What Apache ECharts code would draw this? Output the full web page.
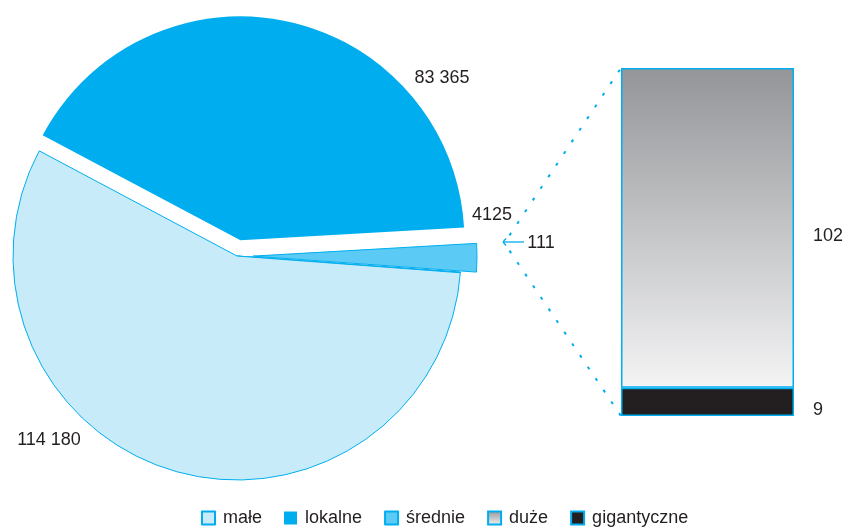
<!DOCTYPE html>
<html>
<head>
<meta charset="utf-8">
<script src="https://cdn.jsdelivr.net/npm/echarts@6/dist/echarts.min.js"></script>
<style>
html, body { margin: 0; padding: 0; background: #fff; }
#chart { width: 847px; height: 528px; }
</style>
</head>
<body>
<div id="chart"></div>
<script>
// dane
var pieNames = ['lokalne', 'średnie', 'duże i gigantyczne', 'małe'];
var pieValues = [83365, 4125, 111, 114180];
var pieLabels = ['83 365', '4125', '111', '114 180'];
var barCategories = ['duże i gigantyczne'];
var barNames = ['gigantyczne', 'duże'];
var barValues = [[9], [102]];
var legendNames = ['małe', 'lokalne', 'średnie', 'duże', 'gigantyczne'];

var blue = '#00aeef';
var ink = '#231f20';
var font = 'Liberation Sans';

// where the pie labels sit
var pieLabelPos = [[442, 78], [492, 215], [541, 243], [49, 440]];

var chart = echarts.init(document.getElementById('chart'));

var pieColors = {
  'lokalne': {color: blue, borderWidth: 0},
  'średnie': {color: '#5bcbf5', borderColor: blue, borderWidth: 1},
  'duże i gigantyczne': {color: '#a7a9ac', borderColor: blue, borderWidth: 1},
  'małe': {color: '#c8ebfa', borderColor: blue, borderWidth: 1}
};

var pieData = pieNames.map(function(n, i) {
  return {
    name: n,
    value: pieValues[i],
    selected: n === 'lokalne' || n === 'średnie',
    itemStyle: pieColors[n]
  };
});

var barGrad = new echarts.graphic.LinearGradient(0, 0, 0, 1, [
  {offset: 0, color: '#939598'},
  {offset: 1, color: '#f4f4f5'}
]);

var barSeries = barNames.map(function(n, i) {
  return {
    name: n,
    type: 'bar',
    stack: 'kol',
    xAxisIndex: 0,
    yAxisIndex: 0,
    barWidth: '100%',
    data: barValues[i],
    itemStyle: {
      color: n === 'duże' ? barGrad : ink,
      borderColor: blue,
      borderWidth: 1.5
    },
    label: {
      show: true,
      position: 'right',
      distance: 19,
      color: ink,
      fontFamily: font,
      fontSize: 18,
      offset: [0, 8]
    },
    emphasis: {disabled: true}
  };
});

option = {
  animation: false,
  textStyle: {fontFamily: font, color: ink},
  legend: {
    data: legendNames,
    left: 196,
    top: 504,
    icon: 'rect',
    itemWidth: 13,
    itemHeight: 13,
    itemGap: 22,
    selectedMode: false,
    textStyle: {fontFamily: font, fontSize: 18, color: ink, padding: [0, 0, 0, 3]}
  },
  grid: {left: 621, top: 68, width: 173, height: 348},
  xAxis: {type: 'category', data: barCategories, show: false},
  yAxis: {type: 'value', min: 0, max: 111, show: false},
  series: [{
    name: 'wielkość',
    type: 'pie',
    center: [237, 256],
    radius: 224,
    startAngle: 152,
    clockwise: true,
    selectedMode: 'multiple',
    selectedOffset: 16,
    data: pieData,
    label: {show: false},
    labelLine: {show: false},
    emphasis: {disabled: true}
  }].concat(barSeries)
};

chart.setOption(option);

// labels of the pie and dotted connectors from the tiny slice to the column
var left = 621;
var topY = chart.convertToPixel({yAxisIndex: 0}, 111);
var botY = chart.convertToPixel({yAxisIndex: 0}, 0);
var dash = {stroke: blue, lineWidth: 2, lineDash: [3, 11], lineDashOffset: -8};
var thin = {stroke: blue, lineWidth: 1.3};

var texts = pieLabels.map(function(t, i) {
  return {
    type: 'text',
    x: pieLabelPos[i][0],
    y: pieLabelPos[i][1],
    silent: true,
    style: {
      text: t,
      fill: ink,
      font: '18px "' + font + '"',
      textAlign: 'center',
      textVerticalAlign: 'middle'
    }
  };
});

chart.setOption({
  graphic: texts.concat([
    {type: 'line', shape: {x1: 505, y1: 242, x2: left, y2: topY}, style: dash, silent: true},
    {type: 'line', shape: {x1: 505, y1: 244, x2: left, y2: botY}, style: dash, silent: true},
    {type: 'line', shape: {x1: 503, y1: 242, x2: 524, y2: 242}, style: thin, silent: true},
    {type: 'line', shape: {x1: 506, y1: 238.5, x2: 503, y2: 242}, style: thin, silent: true},
    {type: 'line', shape: {x1: 503, y1: 242, x2: 506, y2: 245.5}, style: thin, silent: true}
  ])
});
</script>
</body>
</html>
